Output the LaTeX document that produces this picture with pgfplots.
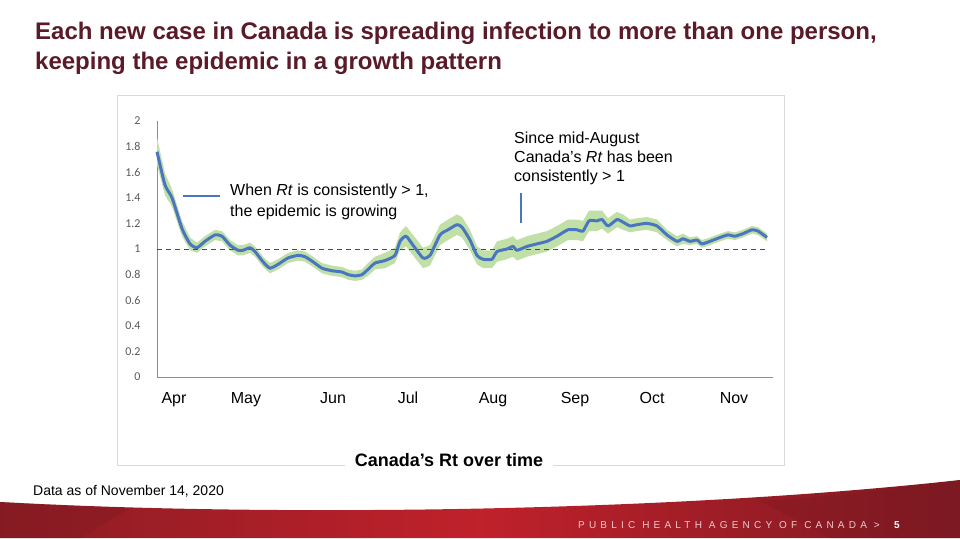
\documentclass[border=0pt]{standalone}
\usepackage{pgfplots}
\pgfplotsset{compat=1.18}
\usepackage{pgfplotstable}
\usepgfplotslibrary{fillbetween}
\usepackage{fontspec}
\setmainfont{Liberation Sans}
\newfontfamily\calibri{Carlito}
\definecolor{titlecol}{HTML}{5A1A28}
\definecolor{rtblue}{HTML}{4A76C0}
\definecolor{bandcol}{HTML}{C0E0A8}
\definecolor{frame}{HTML}{D9D9D9}
\definecolor{axgray}{HTML}{8C8C8C}
\definecolor{tickgray}{HTML}{595959}
\definecolor{redA}{HTML}{8C1C23}
\definecolor{redB}{HTML}{C0212B}
\definecolor{redC}{HTML}{7C1922}
\definecolor{footpink}{HTML}{EBCACC}

\pgfplotstableread{
x y lo hi
0 1.76 1.66 1.87
8 1.50 1.42 1.59
15 1.40 1.33 1.47
25 1.16 1.10 1.22
33 1.04 0.99 1.09
40 1.01 0.97 1.05
48 1.06 1.02 1.10
58 1.11 1.07 1.15
65 1.10 1.06 1.14
73 1.03 0.99 1.07
81 0.99 0.95 1.03
86 0.99 0.95 1.03
93 1.01 0.97 1.05
98 0.98 0.94 1.02
106 0.90 0.86 0.94
113 0.85 0.81 0.89
121 0.88 0.84 0.92
131 0.93 0.89 0.97
141 0.95 0.91 0.99
148 0.94 0.90 0.98
156 0.90 0.86 0.94
165 0.85 0.81 0.89
175 0.83 0.79 0.87
185 0.82 0.78 0.86
191 0.80 0.76 0.84
198 0.79 0.75 0.83
205 0.80 0.76 0.84
211 0.84 0.79 0.89
218 0.89 0.84 0.94
228 0.91 0.85 0.97
238 0.95 0.89 1.01
243 1.06 0.99 1.13
249 1.10 1.02 1.18
256 1.03 0.95 1.11
266 0.93 0.85 1.01
273 0.95 0.87 1.03
283 1.11 1.03 1.19
291 1.15 1.07 1.23
300 1.19 1.11 1.27
305 1.17 1.09 1.25
313 1.07 0.99 1.15
320 0.95 0.88 1.02
326 0.92 0.85 0.99
335 0.92 0.85 0.99
340 0.98 0.90 1.06
350 1.00 0.92 1.08
356 1.02 0.94 1.10
360 0.99 0.91 1.07
370 1.02 0.94 1.10
380 1.04 0.96 1.12
390 1.06 0.98 1.14
400 1.10 1.02 1.18
411 1.15 1.07 1.23
420 1.15 1.07 1.23
426 1.14 1.06 1.22
432 1.22 1.14 1.30
440 1.22 1.14 1.30
445 1.23 1.16 1.30
451 1.18 1.12 1.24
460 1.23 1.17 1.29
466 1.21 1.15 1.27
473 1.18 1.13 1.23
480 1.19 1.14 1.24
490 1.20 1.15 1.25
500 1.18 1.13 1.23
510 1.11 1.07 1.15
520 1.06 1.02 1.10
526 1.08 1.04 1.12
533 1.06 1.03 1.09
540 1.07 1.04 1.10
545 1.04 1.01 1.07
553 1.06 1.03 1.09
563 1.09 1.06 1.12
571 1.11 1.08 1.14
578 1.10 1.07 1.13
586 1.12 1.09 1.15
595 1.15 1.12 1.18
601 1.14 1.11 1.17
610 1.09 1.06 1.12
}\rtdata

\begin{document}
\begin{tikzpicture}[x=1pt,y=1pt]
\path (0,0) rectangle (960,538);
% red footer band
\shade[left color=redA, right color=redC, middle color=redB]
  (0,36) .. controls (250,22) and (650,24) .. (960,58) -- (960,0) -- (0,0) -- cycle;
\fill[redC, opacity=0.35] (0,36) .. controls (40,34) and (80,32) .. (130,30) -- (80,0) -- (0,0) -- cycle;
\fill[redC, opacity=0.35] (760,37) .. controls (840,42) and (900,49) .. (960,58) -- (960,0) -- (830,0) -- cycle;
% title
\node[anchor=base west, inner sep=0, text=titlecol, font=\fontsize{24}{28}\selectfont\bfseries] at (35,498)
  {Each new case in Canada is spreading infection to more than one person,};
\node[anchor=base west, inner sep=0, text=titlecol, font=\fontsize{24}{28}\selectfont\bfseries] at (35,468)
  {keeping the epidemic in a growth pattern};
% chart frame
\draw[frame, line width=0.8pt] (117,73) rectangle (784,443);
\begin{axis}[
  at={(157pt,161pt)}, anchor=origin,
  scale only axis, width=616pt, height=256pt,
  xmin=0, xmax=616, ymin=0, ymax=2,
  axis x line=bottom, axis y line=left,
  axis line style={-, axgray, line width=0.8pt},
  xtick={17,89,176,251,336,418,495,577},
  xticklabels={Apr,May,Jun,Jul,Aug,Sep,Oct,Nov},
  xticklabel style={anchor=base, yshift=-27pt, font=\fontsize{16}{19}\selectfont, text=black},
  ytick={0,0.2,0.4,0.6,0.8,1,1.2,1.4,1.6,1.8,2},
  yticklabel style={anchor=east, xshift=-13pt, font=\calibri\fontsize{12}{14}\selectfont, text=tickgray,
    /pgf/number format/fixed, /pgf/number format/assume math mode=true},
  major tick length=0pt,
  clip=false,
]
\addplot[name path=hi, draw=none, forget plot] table[x=x, y=hi] {\rtdata};
\addplot[name path=lo, draw=none, forget plot] table[x=x, y=lo] {\rtdata};
\addplot[fill=bandcol, draw=none, forget plot] fill between[of=hi and lo];
\addplot[black!70, line width=0.9pt, dash pattern=on 5pt off 4pt, forget plot] coordinates {(0,1) (610,1)};
\addplot[rtblue, line width=3pt, line join=round, smooth, tension=0.35] table[x=x, y=y] {\rtdata};
\end{axis}
% annotations
\draw[rtblue, line width=2.6pt] (183,342) -- (220,342);
\node[anchor=base west, inner sep=0, font=\fontsize{16}{19}\selectfont] at (230,342) {When \textit{Rt} is consistently > 1,};
\node[anchor=base west, inner sep=0, font=\fontsize{16}{19}\selectfont] at (230,321) {the epidemic is growing};
\node[anchor=base west, inner sep=0, font=\fontsize{16}{19}\selectfont] at (514,394) {Since mid-August};
\node[anchor=base west, inner sep=0, font=\fontsize{16}{19}\selectfont] at (514,375) {Canada’s \textit{Rt} has been};
\node[anchor=base west, inner sep=0, font=\fontsize{16}{19}\selectfont] at (514,356) {consistently > 1};
\draw[rtblue, line width=1.6pt] (521,345) -- (521,315);
% chart title
\node[fill=white, inner xsep=10pt, inner ysep=3pt, font=\fontsize{18}{21}\selectfont\bfseries] at (449,78) {Canada’s Rt over time};
% footer
\node[anchor=base west, inner sep=0, font=\fontsize{14}{16}\selectfont] at (33,43) {Data as of November 14, 2020};
\node[anchor=base west, inner sep=0, text=footpink, font=\fontsize{10}{12}\selectfont\addfontfeatures{LetterSpace=42}] at (578,10) {PUBLIC HEALTH AGENCY OF CANADA >};
\node[anchor=base west, inner sep=0, text=white, font=\fontsize{10}{12}\selectfont\bfseries] at (894,10) {5};
\end{tikzpicture}
\end{document}
